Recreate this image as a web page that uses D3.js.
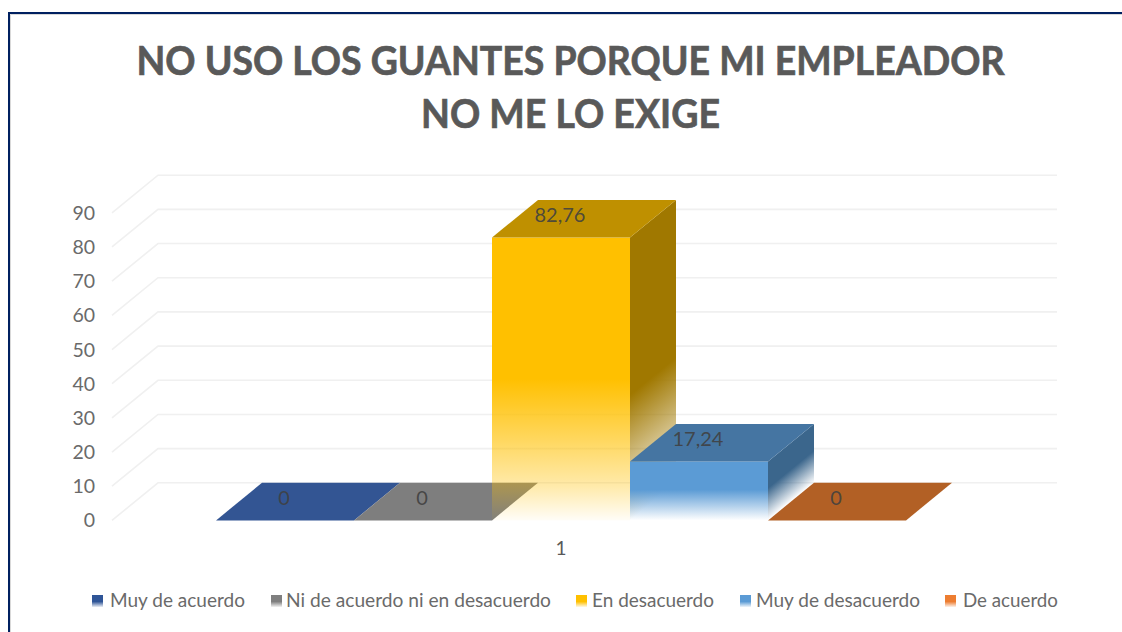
<!DOCTYPE html>
<html><head><meta charset="utf-8">
<script src="https://cdnjs.cloudflare.com/ajax/libs/d3/7.8.5/d3.min.js"></script>
<style>html,body{margin:0;padding:0;background:#fff;overflow:hidden}svg{display:block}text{font-family:Lato,"Open Sans",sans-serif}</style>
</head><body><svg id="c" width="1122" height="632"></svg>
<script>
const titleLines = ["NO USO LOS GUANTES PORQUE MI EMPLEADOR", "NO ME LO EXIGE"];
const seriesNames = ["Muy de acuerdo", "Ni de acuerdo ni en desacuerdo", "En desacuerdo", "Muy de desacuerdo", "De acuerdo"];
const seriesValues = [0, 0, 82.76, 17.24, 0];
const categoryLabel = "1";
const yTicks = [0, 10, 20, 30, 40, 50, 60, 70, 80, 90];

const front = ["#2f5597", "#7f7f7f", "#ffc000", "#5b9bd5", "#ed7d31"];
const topCol = ["#335593", "#7e7e7e", "#bf9000", "#4575a2", "#b26025"];
const sideCol = ["#264478", "#636363", "#a07800", "#3b668c", "#9e480e"];
const legendX = [92, 271, 576, 740, 945];
const legendTextX = [18, 15, 16, 16, 18];
const legendTextW = [135, 265, 122, 164, 95];

const dx = 46, dy = 37.6;
const svg = d3.select("#c");
const defs = svg.append("defs");
const y = d3.scaleLinear().domain([0, 90]).range([520.4, 212.8]);
const x = d3.scaleBand().domain(seriesNames).range([216, 906]).padding(0);

// frame
svg.append("path").attr("d", "M10.5,632 V14.5 H1122").attr("fill", "none").attr("stroke", "#d9d9d9").attr("stroke-width", 1);
svg.append("path").attr("d", "M9,632 V13 H1122").attr("fill", "none").attr("stroke", "#002060").attr("stroke-width", 2);

// title
svg.append("g").selectAll("text").data(titleLines).join("text")
  .attr("x", 570.5).attr("y", (d, i) => 74.5 + i * 53)
  .attr("text-anchor", "middle").attr("font-size", 41).attr("font-weight", 700).attr("fill", "#595959")
  .attr("stroke", "#595959").attr("stroke-width", 0.7)
  .attr("textLength", (d, i) => i ? 299 : 868).attr("lengthAdjust", "spacingAndGlyphs")
  .text(d => d);

// gridlines
const grid = svg.append("g").attr("fill", "none").attr("stroke", "#f0f0f0").attr("stroke-width", 1.6);
grid.selectAll("path").data(yTicks).join("path")
  .attr("d", t => `M${112},${y(t)} L${112 + dx},${y(t) - dy} H1057`);

// y axis
const axis = svg.append("g").attr("transform", "translate(95,-0.5)").call(d3.axisLeft(y).tickValues(yTicks).tickSize(0).tickPadding(0));
axis.select(".domain").remove();
axis.selectAll("text").attr("font-size", 19.5).attr("font-family", "Lato").attr("fill", "#6a6a6a").attr("dy", "0.36em");

// gradients
function gradBox(id, col, stops) {
  const g = defs.append("linearGradient").attr("id", id).attr("x1", 0).attr("y1", 0).attr("x2", 0).attr("y2", 1);
  stops.forEach(s => g.append("stop").attr("offset", s[0]).attr("stop-color", col).attr("stop-opacity", s[1]));
}
// side faces fade towards their lower edge, along the normal of that edge
function gradSide(id, col, x0, y0, reach) {
  const len = Math.hypot(dx, dy), nx = -dy / len, ny = -dx / len;
  const mx = x0 + dx / 2, my = y0 - dy / 2;
  const g = defs.append("linearGradient").attr("id", id).attr("gradientUnits", "userSpaceOnUse")
    .attr("x1", mx + nx * reach).attr("y1", my + ny * reach).attr("x2", mx).attr("y2", my);
  g.append("stop").attr("offset", 0).attr("stop-color", col).attr("stop-opacity", 1);
  g.append("stop").attr("offset", 1).attr("stop-color", col).attr("stop-opacity", 0);
}
gradBox("fYellow", front[2], [[0, 1], [0.5, 1], [0.72, 0.62], [0.88, 0.33], [1, 0.03]]);
gradBox("fBlue", front[3], [[0, 1], [0.48, 1], [1, 0]]);
gradSide("sYellow", sideCol[2], x(seriesNames[2]) + x.bandwidth(), y(0), 97);
gradSide("sBlue", sideCol[3], x(seriesNames[3]) + x.bandwidth(), y(0), 25);
seriesNames.forEach((n, i) => {
  const g = defs.append("linearGradient").attr("id", "leg" + i).attr("x1", 0).attr("y1", 0).attr("x2", 0).attr("y2", 1);
  g.append("stop").attr("offset", 0.55).attr("stop-color", front[i]);
  g.append("stop").attr("offset", 1).attr("stop-color", front[i]).attr("stop-opacity", 0.1);
});

// bars
const bars = svg.append("g").selectAll("g").data(seriesNames.map((n, i) => ({n, i, v: seriesValues[i]}))).join("g");
bars.each(function (d) {
  const g = d3.select(this), x0 = x(d.n), w = x.bandwidth(), y0 = y(0), yt = y(d.v);
  if (d.v > 0) {
    g.append("path").attr("d", `M${x0 + w},${yt} l${dx},${-dy} V${y0 - dy} L${x0 + w},${y0} Z`)
      .attr("fill", d.i === 2 ? "url(#sYellow)" : "url(#sBlue)");
    g.append("rect").attr("x", x0).attr("y", yt).attr("width", w).attr("height", y0 - yt)
      .attr("fill", d.i === 2 ? "url(#fYellow)" : "url(#fBlue)");
  }
  g.append("path").attr("d", `M${x0},${yt} l${dx},${-dy} h${w} l${-dx},${dy} Z`).attr("fill", topCol[d.i]);
});

// value labels
svg.append("g").selectAll("text").data(seriesNames).join("text")
  .attr("x", d => x(d) + x.bandwidth() / 2 - 1)
  .attr("y", (d, i) => y(seriesValues[i]) - 15.5)
  .attr("text-anchor", "middle").attr("font-size", 20).attr("fill", "#404040")
  .attr("fill-opacity", 0.9)
  .text((d, i) => String(seriesValues[i]).replace(".", ","));

// category label
svg.append("text").attr("x", 561).attr("y", 555).attr("text-anchor", "middle")
  .attr("font-size", 19).attr("fill", "#595959").text(categoryLabel);

// legend
const leg = svg.append("g").selectAll("g").data(seriesNames).join("g")
  .attr("transform", (d, i) => `translate(${legendX[i]},595)`);
leg.append("rect").attr("width", 11).attr("height", 12).attr("fill", (d, i) => `url(#leg${i})`);
leg.append("text").attr("x", (d, i) => legendTextX[i]).attr("y", 12)
  .attr("font-size", 19.5).attr("fill", "#6a6a6a")
  .attr("textLength", (d, i) => legendTextW[i]).attr("lengthAdjust", "spacingAndGlyphs")
  .text(d => d);
</script></body></html>
